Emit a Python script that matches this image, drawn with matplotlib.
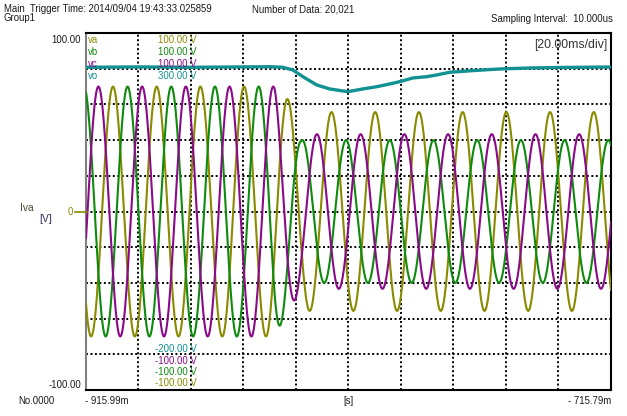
import numpy as np
import matplotlib.pyplot as plt

plt.rcParams['font.family'] = ['Liberation Sans', 'DejaVu Sans']

# recorder settings
n_data = 20021
dt = 10e-6
t_start = -0.91599
t_end = -0.71579
div = 0.020

# three phase voltages va, vb, vc
names = ["va", "vb", "vc"]
colors = ["#8a8a00", "#0e8a0e", "#8a0a8a"]
freq = 60.0
first_peak = 0.01029          # time of first va peak after left edge [s]
lag_cycles = [0.0, 1/3, 2/3]  # vb, vc lag behind va
amp_before = [70.0, 70.0, 70.0]
amp_after = [55.7, 40.0, 43.3]
step_from = 0.072             # amplitude drop, s from left edge
step_to = 0.082

# vo trace, readings (ms from left edge, V)
vo_ms = [0, 20, 40, 60, 70, 75, 78.9, 82.7, 88.0, 93.0, 99.8, 105.5, 110.9,
         115.8, 119.6, 124.6, 129.9, 133.7, 138.7, 148.2, 157.7, 169.0, 180.6, 200.2]
vo_v = [252.0, 252.5, 252.0, 252.5, 252.8, 252.0, 248.2, 238.8, 227.2, 221.6, 217.8,
        221.6, 224.8, 228.6, 231.8, 237.0, 238.8, 241.2, 245.0, 247.5, 249.6, 251.0,
        251.7, 252.4]
vo_color = "#119191"

W, H = 627, 416
fig = plt.figure(figsize=(W / 100, H / 100), dpi=100)
L, R, T, B = 86, 611, 33, 390
ax = fig.add_axes([L / W, 1 - B / H, (R - L) / W, (B - T) / H])

tr = np.arange(n_data) * dt
t = t_start + tr
for i in range(3):
    env = np.interp(tr, [step_from, step_to], [amp_before[i], amp_after[i]])
    ph = 2 * np.pi * freq * (tr - first_peak) - 2 * np.pi * lag_cycles[i]
    ax.plot(t, env * np.cos(ph), color=colors[i], lw=1.5, zorder=3)

ax.set_xlim(t_start, t_end)
ax.set_ylim(-100, 100)
ax.set_xticks(t_start + div * np.arange(1, 10))
ax.set_yticks(np.arange(-80, 81, 20))
ax.tick_params(length=0, labelbottom=False, labelleft=False)
ax.grid(True, color="black", ls=(0, (1, 1.3)), lw=1.4)
ax.set_axisbelow(True)
for s in ["top", "bottom", "right"]:
    ax.spines[s].set_color("black")
    ax.spines[s].set_linewidth(1.5)
ax.spines["left"].set_color("#808080")
ax.spines["left"].set_linewidth(1.5)

ax2 = ax.twinx()
ax2.set_ylim(-200, 300)
ax2.plot(t_start + np.array(vo_ms) / 1000, vo_v, color=vo_color, lw=2.4, zorder=4)
ax2.set_yticks([])
for s in ax2.spines.values():
    s.set_visible(False)

fs = 6.9
def txt(x, y, s, ha="left", color="#1a1a1a", size=fs):
    fig.text(x / W, 1 - y / H, s, ha=ha, va="center", fontsize=size, color=color)

txt(4, 9, "Main  Trigger Time: 2014/09/04 19:43:33.025859")
txt(4, 18, "Group1")
txt(252, 9, "Number of Data: 20,021")
txt(613, 19, "Sampling Interval:  10.000us", ha="right")
txt(81, 40, "100.00", ha="right")
txt(81, 385, "-100.00", ha="right")
txt(18, 401, "No.0000")
txt(85, 401, "- 915.99m")
txt(348, 401, "[s]", ha="center")
txt(611, 401, "- 715.79m", ha="right")
txt(607, 45, "[20.00ms/div]", ha="right", color="#333333", size=8.8)
txt(20, 208, "Iva", color="#4a4a30", size=7.4)
txt(39, 219, "[V]", color="#30305a", size=7.4)
txt(73, 212, "0", ha="right", color=colors[0])
fig.add_artist(plt.Line2D([75 / W, 87 / W], [1 - 211.5 / H] * 2, color=colors[0], lw=1.2))

top_scale = ["100.00 V", "100.00 V", "100.00 V", "300.00 V"]
bot_scale = ["-200.00 V", "-100.00 V", "-100.00 V", "-100.00 V"]
all_names = names + ["vo"]
all_colors = colors + [vo_color]
for k in range(4):
    txt(88, 40 + 12 * k, all_names[k], color=all_colors[k])
    txt(197, 40 + 12 * k, top_scale[k], ha="right", color=all_colors[k])
bot_colors = [vo_color, colors[2], colors[1], colors[0]]
for k in range(4):
    txt(197, 349 + 11.5 * k, bot_scale[k], ha="right", color=bot_colors[k])

fig.savefig("out.png", dpi=100)
